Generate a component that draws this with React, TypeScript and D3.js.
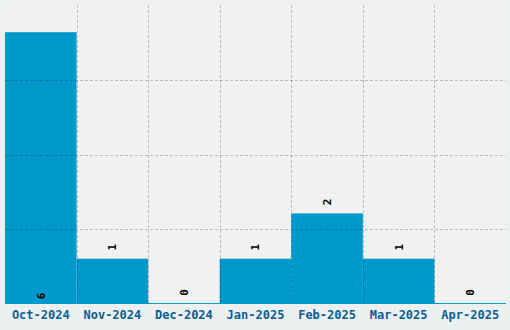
import React from "react";
import * as d3 from "d3";

const categories = ["Oct-2024", "Nov-2024", "Dec-2024", "Jan-2025", "Feb-2025", "Mar-2025", "Apr-2025"];
const values = [6, 1, 0, 1, 2, 1, 0];
const yTickValues = [0, 1.65, 3.3, 4.95, 6.6];

const W = 510, H = 330;
const M = { left: 5, right: 4, top: 5, bottom: 26 };

export default function App() {
  const x = d3.scaleBand<string>().domain(categories).range([M.left, W - M.right]).padding(0);
  const y = d3.scaleLinear().domain([0, 6.6]).range([H - M.bottom, M.top]);
  const y0 = y(0);
  const font = "'DejaVu Sans Mono', monospace";
  const bounds = [...categories.map((c) => x(c)!), W - M.right];
  return (
    <div style={{ position: "absolute", left: 0, top: 0 }}>
      <svg width={W} height={H} style={{ display: "block" }}>
        <rect x={0} y={0} width={W} height={H} fill="#ecf0f1" />
        <rect x={M.left} y={M.top} width={W - M.left - M.right} height={y0 - M.top} fill="#f1f1f1" />
        {categories.map((c, i) => (
          <rect key={c} x={x(c)} y={y(values[i])} width={x.bandwidth()} height={y0 - y(values[i])} fill="#0099cc" />
        ))}
        <line x1={M.left} x2={W - M.right} y1={y0 - 0.5} y2={y0 - 0.5} stroke="#0099cc" strokeWidth={1} />
        {yTickValues.slice(1, -1).map((t) => (
          <line key={t} x1={M.left} x2={W - M.right} y1={Math.round(y(t)) + 0.5} y2={Math.round(y(t)) + 0.5}
            stroke="rgba(0,0,0,0.22)" strokeDasharray="3,2" />
        ))}
        {bounds.slice(1, -1).map((b, i) => (
          <line key={i} x1={Math.round(b) + 0.5} x2={Math.round(b) + 0.5} y1={M.top} y2={y0}
            stroke="rgba(0,0,0,0.22)" strokeDasharray="3,2" />
        ))}
        {categories.map((c, i) => {
          const cx = x(c)! + x.bandwidth() / 2;
          let cy = y(values[i]) - 11.5;
          if (cy < M.top + 20) cy = y0 - 8;
          return (
            <text key={c} transform={`translate(${cx},${cy}) rotate(-90)`} textAnchor="middle" dy="0.35em"
              fontFamily={font} fontWeight="bold" fontSize={11} fill="#000">
              {values[i]}
            </text>
          );
        })}
        {categories.map((c) => (
          <text key={c} x={x(c)! + x.bandwidth() / 2} y={319} textAnchor="middle"
            fontFamily={font} fontWeight="bold" fontSize={12} fill="#0b5e94">
            {c}
          </text>
        ))}
      </svg>
    </div>
  );
}
